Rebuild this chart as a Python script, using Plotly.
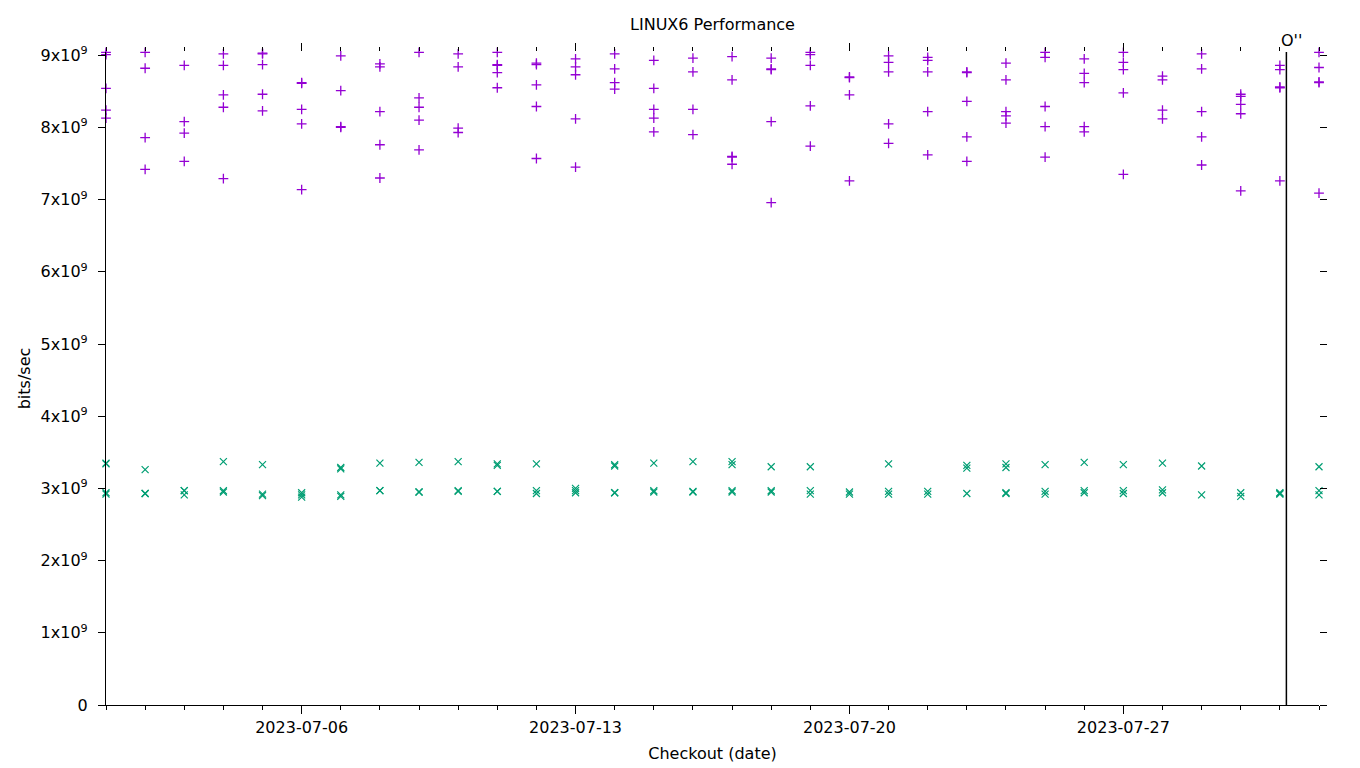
import plotly.graph_objects as go

# ---------------- data ----------------
dates = [f"2023-07-{d:02d}" for d in range(1, 32)] + ["2023-08-01"]

# purple '+' series, values in units of 1e9 bits/sec, one list per day
tcp_gbps = [
    [9.04, 9.01, 8.54, 8.24, 8.13],
    [9.04, 8.82, 7.86, 7.42],
    [9.06, 8.86, 8.08, 7.92, 7.53],
    [9.02, 8.86, 8.45, 8.28, 7.29],
    [9.03, 9.02, 8.87, 8.46, 8.23],
    [8.62, 8.61, 8.25, 8.05, 7.14],
    [8.99, 8.51, 8.01, 8.00],
    [8.88, 8.84, 8.22, 7.76, 7.30],
    [9.04, 8.41, 8.28, 8.10, 7.69],
    [9.02, 8.84, 7.99, 7.93],
    [9.04, 8.87, 8.86, 8.76, 8.55],
    [8.89, 8.87, 8.59, 8.29, 7.57],
    [8.95, 8.84, 8.73, 8.12, 7.45],
    [9.02, 8.81, 8.62, 8.53],
    [8.93, 8.54, 8.25, 8.13, 7.94],
    [8.96, 8.77, 8.25, 7.90],
    [8.98, 8.66, 7.60, 7.59, 7.49],
    [8.96, 8.81, 8.80, 8.08, 6.96],
    [9.04, 9.01, 8.86, 8.30, 7.74],
    [9.05, 8.70, 8.69, 8.45, 7.26],
    [8.99, 8.90, 8.77, 8.05, 7.78],
    [8.97, 8.93, 8.77, 8.22, 7.62],
    [8.77, 8.76, 8.36, 7.87, 7.53],
    [8.89, 8.66, 8.22, 8.16, 8.06],
    [9.04, 8.97, 8.29, 8.01, 7.59],
    [8.95, 8.75, 8.62, 8.01, 7.94],
    [9.04, 8.90, 8.80, 8.48, 7.35],
    [8.71, 8.66, 8.24, 8.12],
    [9.02, 8.81, 8.22, 7.87, 7.48],
    [8.46, 8.43, 8.32, 8.19, 7.12],
    [8.86, 8.80, 8.56, 8.55, 7.26],
    [9.04, 8.83, 8.63, 8.62, 7.09],
]

# green 'x' series, values in units of 1e9 bits/sec, one list per day
udp_gbps = [
    [3.35, 3.34, 2.94, 2.92],
    [3.26, 2.93, 2.93],
    [2.97, 2.97, 2.91],
    [3.37, 2.97, 2.95],
    [3.33, 2.92, 2.90],
    [2.94, 2.91, 2.88],
    [3.29, 3.27, 2.91, 2.89],
    [3.35, 2.97, 2.97],
    [3.36, 2.95, 2.95],
    [3.37, 2.97, 2.96],
    [3.34, 3.32, 2.96, 2.96],
    [3.34, 2.97, 2.93],
    [3.00, 2.97, 2.94],
    [3.33, 3.31, 2.94, 2.94],
    [3.35, 2.97, 2.95],
    [3.37, 2.96, 2.95],
    [3.37, 3.33, 2.97, 2.95],
    [3.30, 2.97, 2.95],
    [3.30, 2.97, 2.92],
    [2.95, 2.92],
    [3.34, 2.96, 2.92],
    [2.96, 2.92],
    [3.32, 3.28, 2.93],
    [3.34, 3.29, 2.94, 2.93],
    [3.33, 2.96, 2.92],
    [3.36, 2.97, 2.94],
    [3.33, 2.97, 2.93],
    [3.35, 2.98, 2.94],
    [3.31, 2.91],
    [2.94, 2.89],
    [2.94, 2.93, 2.92],
    [3.30, 2.97, 2.91],
]

ytick_vals = [0, 1e9, 2e9, 3e9, 4e9, 5e9, 6e9, 7e9, 8e9, 9e9]
ytick_text = ["0"] + [f"{i}x10<sup>9</sup>" for i in range(1, 10)]

event_date = "2023-07-31 04:00"
event_label = "O''"

x_range = ["2023-07-01", "2023-08-01"]
y_range = [0, 9.045e9]

# ---------------- build ----------------
def expand(per_day):
    xs, ys = [], []
    for d, vals in zip(dates, per_day):
        for v in vals:
            xs.append(d)
            ys.append(v * 1e9)
    return xs, ys

tx, ty = expand(tcp_gbps)
ux, uy = expand(udp_gbps)

FONT = "DejaVu Sans"
PURPLE = "#9400D3"
GREEN = "#009E73"

W, H = 1352, 760  # page body adds an 8px margin

fig = go.Figure()
fig.add_trace(go.Scatter(
    x=tx, y=ty, mode="markers", name="tcp",
    marker=dict(symbol="cross-thin-open", size=7, line=dict(color=PURPLE, width=1.3), color=PURPLE),
    cliponaxis=False, showlegend=False))
fig.add_trace(go.Scatter(
    x=ux, y=uy, mode="markers", name="udp", xaxis="x2", yaxis="y2",
    marker=dict(symbol="x-thin-open", size=7, line=dict(color=GREEN, width=1.2), color=GREEN),
    cliponaxis=False, showlegend=False))

fig.add_shape(type="line", xref="x", yref="paper", x0=event_date, x1=event_date,
              y0=0, y1=1, line=dict(color="black", width=1.5))
fig.add_annotation(x=event_date, xref="x", y=1, yref="paper", text=event_label,
                   showarrow=False, xanchor="center", yanchor="bottom", yshift=0, xshift=5,
                   font=dict(family=FONT, size=16, color="black"))

common_x = dict(
    type="date", range=x_range, showgrid=False, zeroline=False, automargin=False,
    tick0="2023-07-06", dtick=7 * 86400000, ticks="outside", ticklen=8,
    tickcolor="black", tickwidth=1,
    minor=dict(dtick=86400000, tick0="2023-07-01", ticks="outside", ticklen=4,
               tickcolor="black", tickwidth=1, showgrid=False),
)
common_y = dict(
    range=y_range, showgrid=False, zeroline=False, automargin=False,
    tickmode="array", tickvals=ytick_vals, ticktext=ytick_text,
    ticks="outside", ticklen=7, tickcolor="black", tickwidth=1,
)

fig.update_layout(
    width=W, height=H,
    margin=dict(l=98, r=41, t=44, b=63),
    paper_bgcolor="white", plot_bgcolor="white",
    font=dict(family=FONT, size=16, color="black"),
    title=dict(text="LINUX6 Performance", x=0.5, xref="paper", xanchor="center",
               y=1 - 16 / H, yref="container", yanchor="middle",
               font=dict(family=FONT, size=16, color="black")),
    xaxis=dict(**common_x, showline=True, linecolor="black", linewidth=1.2,
               tickformat="%Y-%m-%d",
               title=dict(text="Checkout (date)", standoff=11,
                          font=dict(family=FONT, size=16))),
    yaxis=dict(**common_y, showline=True, linecolor="black", linewidth=1.2,
               ticklabelstandoff=7,
               title=dict(text="bits/sec", standoff=5,
                          font=dict(family=FONT, size=16))),
    xaxis2=dict(**common_x, overlaying="x", side="top", matches="x",
                showline=False, showticklabels=False),
    yaxis2=dict(**common_y, overlaying="y", side="right", matches="y",
                showline=False, showticklabels=False),
    showlegend=False,
)

fig.write_html("out.html")
